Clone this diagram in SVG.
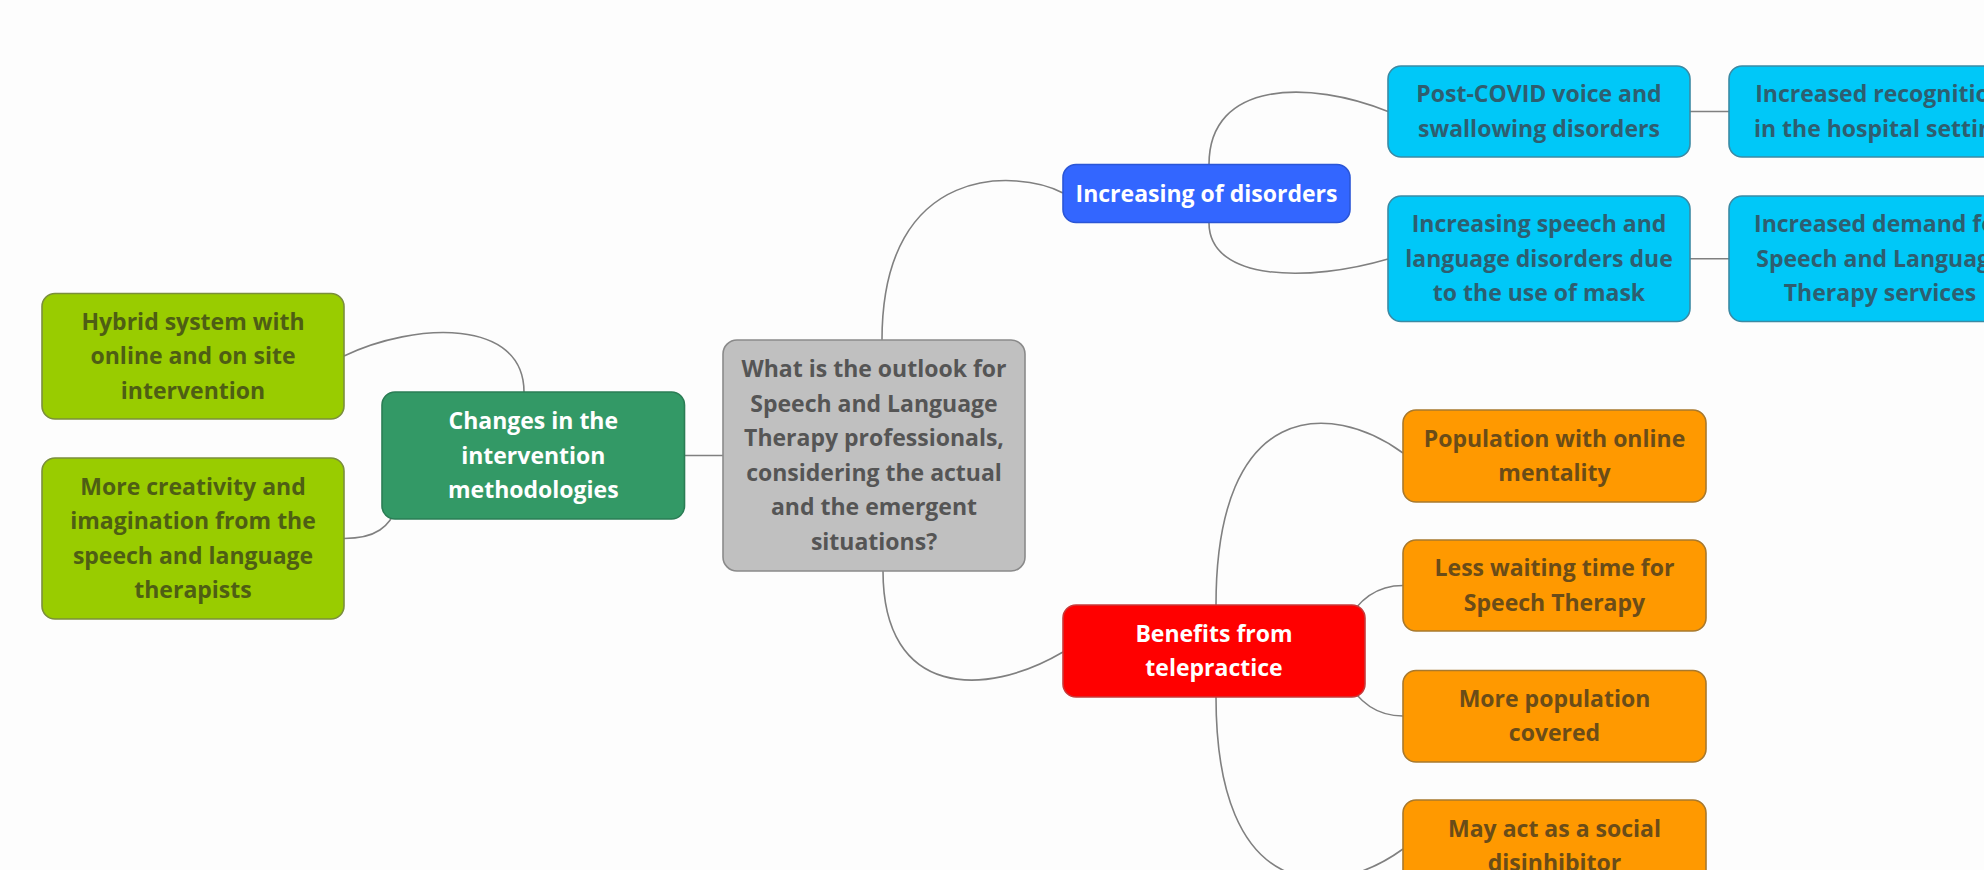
<svg xmlns="http://www.w3.org/2000/svg" width="1984" height="870" viewBox="0 0 1984 870">
<style>
.bg{fill:#fdfdfd}
.conn path{fill:none;stroke:#808080;stroke-width:1.6}
.box{stroke-width:1.6}
text{font-family:"Open Sans","Noto Sans","DejaVu Sans",sans-serif;font-weight:700;font-size:23px;text-anchor:middle}
.gray rect{fill:#c0c0c0;stroke:#8a8a8a}
.gray text{fill:#555555}
.blue rect{fill:#3366ff;stroke:#2b56d6}
.blue text{fill:#ffffff}
.cyan rect{fill:#00c8f8;stroke:#3b8aa4}
.cyan text{fill:#2e5e70}
.green rect{fill:#339966;stroke:#2b7d55}
.green text{fill:#ffffff}
.lime rect{fill:#99cc00;stroke:#7b8f3c}
.lime text{fill:#4e5e14}
.red rect{fill:#ff0000;stroke:#c83a3a}
.red text{fill:#ffffff}
.orange rect{fill:#ff9900;stroke:#a8792e}
.orange text{fill:#6a4c18}
</style>
<rect class="bg" x="0" y="0" width="1984" height="870"/>
<g id="connectors" class="conn">
<path d="M 882 340 C 882 160, 1020 170, 1063 193"/>
<path d="M 883 571 C 883 698, 985 698, 1063 652"/>
<path d="M 684 455.5 L 723 455.5"/>
<path d="M 524 392 C 524 318, 415 322, 344 356"/>
<path d="M 397 505 C 391 527, 375 538.5, 344 538.5"/>
<path d="M 1209 164.5 C 1209 80, 1310 80, 1388 111.5"/>
<path d="M 1209 222.7 C 1209 282, 1310 282, 1388 259"/>
<path d="M 1690 111.5 L 1729 111.5"/>
<path d="M 1690 258.75 L 1729 258.75"/>
<path d="M 1216 605 C 1216 400, 1330 400, 1403 453"/>
<path d="M 1345 625 Q 1365 585.5 1403 585.5"/>
<path d="M 1345 677 Q 1365 716 1403 716"/>
<path d="M 1216 697 C 1216 902, 1330 902, 1403 849"/>
</g>
<g id="node-central" class="gray">
<rect class="box" x="723" y="340" width="302" height="231" rx="14"/>
<text x="874" y="377.3">What is the outlook for</text>
<text x="874" y="411.8">Speech and Language</text>
<text x="874" y="446.3">Therapy professionals,</text>
<text x="874" y="480.8">considering the actual</text>
<text x="874" y="515.3">and the emergent</text>
<text x="874" y="549.8">situations?</text>
</g>
<g id="node-increasing" class="blue">
<rect class="box" x="1063" y="164.5" width="287" height="58" rx="13"/>
<text x="1206.5" y="201.6">Increasing of disorders</text>
</g>
<g id="node-postcovid" class="cyan">
<rect class="box" x="1388" y="66" width="302" height="91" rx="13"/>
<text x="1539" y="102.3">Post-COVID voice and</text>
<text x="1539" y="136.8">swallowing disorders</text>
</g>
<g id="node-recognition" class="cyan">
<rect class="box" x="1729" y="66" width="302" height="91" rx="13"/>
<text x="1880" y="102.3">Increased recognition</text>
<text x="1880" y="136.8">in the hospital setting</text>
</g>
<g id="node-mask" class="cyan">
<rect class="box" x="1388" y="196" width="302" height="125.5" rx="13"/>
<text x="1539" y="232.3">Increasing speech and</text>
<text x="1539" y="266.8">language disorders due</text>
<text x="1539" y="301.3">to the use of mask</text>
</g>
<g id="node-demand" class="cyan">
<rect class="box" x="1729" y="196" width="302" height="125.5" rx="13"/>
<text x="1880" y="232.3">Increased demand for</text>
<text x="1880" y="266.8">Speech and Language</text>
<text x="1880" y="301.3">Therapy services</text>
</g>
<g id="node-changes" class="green">
<rect class="box" x="382" y="392" width="302.5" height="127" rx="13"/>
<text x="533.3" y="429">Changes in the</text>
<text x="533.3" y="463.5">intervention</text>
<text x="533.3" y="498">methodologies</text>
</g>
<g id="node-hybrid" class="lime">
<rect class="box" x="42" y="293.5" width="302" height="125.5" rx="13"/>
<text x="193" y="329.8">Hybrid system with</text>
<text x="193" y="364.3">online and on site</text>
<text x="193" y="398.8">intervention</text>
</g>
<g id="node-creativity" class="lime">
<rect class="box" x="42" y="458" width="302" height="161" rx="13"/>
<text x="193" y="494.8">More creativity and</text>
<text x="193" y="529.3">imagination from the</text>
<text x="193" y="563.8">speech and language</text>
<text x="193" y="598.3">therapists</text>
</g>
<g id="node-benefits" class="red">
<rect class="box" x="1063" y="605" width="302" height="92" rx="13"/>
<text x="1214" y="641.8">Benefits from</text>
<text x="1214" y="676.3">telepractice</text>
</g>
<g id="node-online" class="orange">
<rect class="box" x="1403" y="410" width="303" height="92" rx="13"/>
<text x="1554.5" y="446.8">Population with online</text>
<text x="1554.5" y="481.3">mentality</text>
</g>
<g id="node-waiting" class="orange">
<rect class="box" x="1403" y="540" width="303" height="91" rx="13"/>
<text x="1554.5" y="576.3">Less waiting time for</text>
<text x="1554.5" y="610.8">Speech Therapy</text>
</g>
<g id="node-covered" class="orange">
<rect class="box" x="1403" y="670.5" width="303" height="91.5" rx="13"/>
<text x="1554.5" y="706.8">More population</text>
<text x="1554.5" y="741.3">covered</text>
</g>
<g id="node-disinhibitor" class="orange">
<rect class="box" x="1403" y="800" width="303" height="92" rx="13"/>
<text x="1554.5" y="836.8">May act as a social</text>
<text x="1554.5" y="871.3">disinhibitor</text>
</g>
</svg>
